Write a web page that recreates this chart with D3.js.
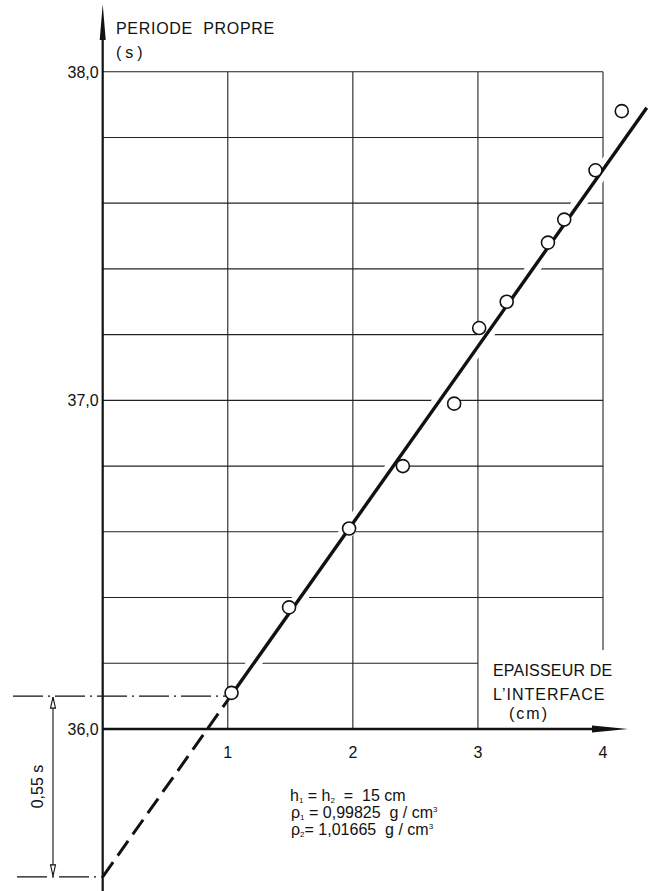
<!DOCTYPE html>
<html>
<head>
<meta charset="utf-8">
<script src="https://cdn.jsdelivr.net/npm/d3@7"></script>
<style>
  html, body { margin: 0; padding: 0; background: #fff; }
  svg { display: block; }
  text { font-family: "Liberation Sans", Arial, sans-serif; fill: #111; }
</style>
</head>
<body>
<svg id="chart" width="652" height="891"></svg>
<script>
// Measured natural period versus interface thickness
const thickness = [1.03, 1.49, 1.97, 2.40, 2.81, 3.01, 3.23, 3.56, 3.69, 3.94, 4.15];
const period    = [36.11, 36.37, 36.61, 36.80, 36.99, 37.22, 37.30, 37.48, 37.55, 37.70, 37.88];

// Fitted straight line: period = intercept + slope * thickness
const fitIntercept = 35.55;
const fitSlope = 0.538;
const fitStart = 1.03;   // solid from first measurement
const fitEnd = 4.35;

// Reference level of the first point and the 0,55 s offset
const refLevel = 36.10;
const offsetLabel = "0,55 s";

const xTicks = [1, 2, 3, 4];
const xTickLabels = ["1", "2", "3", "4"];
const yTicks = [36, 37, 38];
const yTickLabels = ["36,0", "37,0", "38,0"];
const gridY = [36.2, 36.4, 36.6, 36.8, 37.0, 37.2, 37.4, 37.6, 37.8, 38.0];
const gridX = [1, 2, 3, 4];

const svg = d3.select("#chart");
const W = 652, H = 891;

const x = d3.scaleLinear().domain([0, 4]).range([102.7, 603]);
const y = d3.scaleLinear().domain([36, 38]).range([729, 71.7]);

const ink = "#111";

// ---- grid ----
const grid = svg.append("g").attr("stroke", "#222").attr("stroke-width", 1.1).attr("fill", "none");
gridY.forEach(v => {
  const xe = v < 36.3 ? 3 : 4;  // lowest line stops before the axis title
  grid.append("line")
    .attr("x1", x(0)).attr("x2", x(xe))
    .attr("y1", y(v)).attr("y2", y(v));
});
gridX.forEach(v => {
  const yb = v === 4 ? 36.24 : 36;
  grid.append("line")
    .attr("x1", x(v)).attr("x2", x(v))
    .attr("y1", y(38)).attr("y2", y(yb));
});

// ---- axes ----
const axes = svg.append("g");
// horizontal axis at 36,0 with arrow
axes.append("line")
  .attr("x1", x(0)).attr("x2", 600)
  .attr("y1", y(36)).attr("y2", y(36))
  .attr("stroke", ink).attr("stroke-width", 2.4);
axes.append("path")
  .attr("d", `M592,${y(36) - 3.5} L628,${y(36)} L592,${y(36) + 3.5} Z`)
  .attr("fill", ink);
// vertical axis with arrow
axes.append("line")
  .attr("x1", x(0)).attr("x2", x(0))
  .attr("y1", 30).attr("y2", H)
  .attr("stroke", ink).attr("stroke-width", 2.2);
axes.append("path")
  .attr("d", `M${x(0) - 3},40 L${x(0)},4 L${x(0) + 3},40 Z`)
  .attr("fill", ink);

// y tick labels
svg.append("g").selectAll("text").data(yTicks).join("text")
  .attr("x", x(0) - 4).attr("y", d => y(d) + 6)
  .attr("text-anchor", "end")
  .attr("font-size", 16)
  .text((d, i) => yTickLabels[i]);

// x tick labels
svg.append("g").selectAll("text").data(xTicks).join("text")
  .attr("x", d => x(d)).attr("y", 758)
  .attr("text-anchor", "middle")
  .attr("font-size", 16)
  .text((d, i) => xTickLabels[i]);

// axis titles
svg.append("text").attr("x", 116).attr("y", 34).attr("font-size", 16)
  .attr("letter-spacing", 0.7).style("white-space", "pre").text("PERIODE  PROPRE");
svg.append("text").attr("x", 116).attr("y", 58).attr("font-size", 16)
  .attr("letter-spacing", 4).text("(s)");

svg.append("text").attr("x", 493).attr("y", 676).attr("font-size", 16)
  .attr("letter-spacing", 0.2).text("EPAISSEUR DE");
svg.append("text").attr("x", 493).attr("y", 700).attr("font-size", 16)
  .attr("letter-spacing", 1).text("L\u2019INTERFACE");
svg.append("text").attr("x", 509).attr("y", 719).attr("font-size", 16)
  .attr("letter-spacing", 2).text("(cm)");

// ---- offset annotation ----
const ann = svg.append("g").attr("fill", "none").attr("stroke", ink).attr("stroke-width", 1.1);
ann.append("line")
  .attr("x1", 13).attr("x2", x(fitStart) - 6)
  .attr("y1", y(refLevel)).attr("y2", y(refLevel))
  .attr("stroke-dasharray", "30,5,2,5");
ann.append("line")
  .attr("x1", 17).attr("x2", x(0))
  .attr("y1", y(fitIntercept)).attr("y2", y(fitIntercept))
  .attr("stroke-dasharray", "30,5,2,5");
const ax = 53;
ann.append("line")
  .attr("x1", ax).attr("x2", ax)
  .attr("y1", y(refLevel) + 1).attr("y2", y(fitIntercept) - 1);
ann.append("path")
  .attr("d", `M${ax - 2.5},${y(refLevel) + 12} L${ax},${y(refLevel) + 1} L${ax + 2.5},${y(refLevel) + 12} Z`)
  .attr("fill", "#fff");
ann.append("path")
  .attr("d", `M${ax - 2.5},${y(fitIntercept) - 12} L${ax},${y(fitIntercept) - 1} L${ax + 2.5},${y(fitIntercept) - 12} Z`)
  .attr("fill", "#fff");
svg.append("text")
  .attr("transform", `translate(43,${(y(refLevel) + y(fitIntercept)) / 2}) rotate(-90)`)
  .attr("text-anchor", "middle").attr("font-size", 16)
  .text(offsetLabel);

// ---- fitted line ----
const line = d3.line().x(d => x(d[0])).y(d => y(d[1]));
const fitAt = t => fitIntercept + fitSlope * t;
const solid = [[fitStart, fitAt(fitStart)], [fitEnd, fitAt(fitEnd)]];
const dashed = [[0, fitAt(0)], [fitStart, fitAt(fitStart)]];

svg.append("path").attr("d", line(solid))
  .attr("stroke", "#fff").attr("stroke-width", 14).attr("fill", "none");
svg.append("path").attr("d", line(solid))
  .attr("stroke", ink).attr("stroke-width", 3.4).attr("fill", "none");
svg.append("path").attr("d", line(dashed))
  .attr("stroke", ink).attr("stroke-width", 3).attr("fill", "none")
  .attr("stroke-dasharray", "18,8");

// ---- measurements ----
svg.append("g").selectAll("circle").data(thickness).join("circle")
  .attr("cx", d => x(d)).attr("cy", (d, i) => y(period[i]))
  .attr("r", 6.5)
  .attr("fill", "#fff").attr("stroke", ink).attr("stroke-width", 1.6);

// ---- experiment parameters ----
const params = svg.append("g").attr("font-size", 16);
const p1 = params.append("text").attr("x", 290).attr("y", 801);
p1.append("tspan").text("h");
p1.append("tspan").attr("font-size", 8).attr("dy", 2).text("1");
p1.append("tspan").attr("dy", -2).style("white-space", "pre").text(" = h");
p1.append("tspan").attr("font-size", 8).attr("dy", 2).text("2");
p1.append("tspan").attr("dy", -2).style("white-space", "pre").text("  =  15 cm");

const p2 = params.append("text").attr("x", 291).attr("y", 818);
p2.append("tspan").text("\u03C1");
p2.append("tspan").attr("font-size", 8).attr("dy", 2).text("1");
p2.append("tspan").attr("dy", -2).style("white-space", "pre").text(" = 0,99825  g / cm");
p2.append("tspan").attr("font-size", 8).attr("dy", -6).text("3");

const p3 = params.append("text").attr("x", 291).attr("y", 835);
p3.append("tspan").text("\u03C1");
p3.append("tspan").attr("font-size", 8).attr("dy", 2).text("2");
p3.append("tspan").attr("dy", -2).style("white-space", "pre").text("= 1,01665  g / cm");
p3.append("tspan").attr("font-size", 8).attr("dy", -6).text("3");
</script>
</body>
</html>
